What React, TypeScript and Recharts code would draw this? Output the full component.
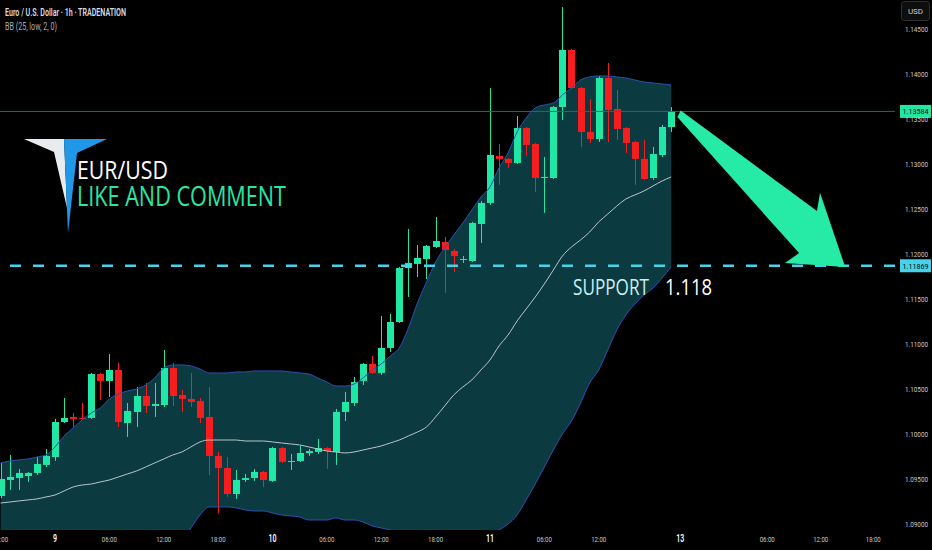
import React from 'react';
import { ComposedChart, Bar, Area, Line, XAxis, YAxis, ReferenceLine } from 'recharts';

// hourly bars, hour 0 = 9 Apr 00:00
const hours = Array.from({ length: 75 }, (_, i) => i - 6);

const opens = [
  1.09311, 1.09489, 1.09511, 1.09533, 1.09567, 1.09656, 1.09744, 1.10133, 1.10189, 1.10178,
  1.10178, 1.10667, 1.10589, 1.10711, 1.10122, 1.10244, 1.10422, 1.10311, 1.10322, 1.10733,
  1.10433, 1.10389, 1.10367, 1.10189, 1.09756, 1.09622, 1.09333, 1.09489, 1.09511, 1.09578,
  1.09478, 1.09844, 1.09689, 1.09700, 1.09789, 1.09800, 1.09844, 1.09800, 1.10244, 1.10344,
  1.10589, 1.10778, 1.10678, 1.10956, 1.11244, 1.11844, 1.11889, 1.11944, 1.12078, 1.12133,
  1.12033, 1.11933, 1.11922, 1.12333, 1.12567, 1.13089, 1.13056, 1.13011, 1.13400, 1.13222,
  1.12844, 1.12844, 1.13633, 1.14267, 1.13844, 1.13356, 1.13278, 1.13956, 1.13611, 1.13400,
  1.13244, 1.13056, 1.12844, 1.13100, 1.13411,
];
const highs = [
  1.09678, 1.09767, 1.09611, 1.09578, 1.09744, 1.09833, 1.10167, 1.10400, 1.10233, 1.10344,
  1.10678, 1.10678, 1.10889, 1.10789, 1.10344, 1.10522, 1.10567, 1.10567, 1.10933, 1.10789,
  1.10489, 1.10678, 1.10400, 1.10522, 1.09800, 1.09744, 1.09600, 1.09556, 1.09611, 1.09589,
  1.09856, 1.09856, 1.09778, 1.09867, 1.09833, 1.09944, 1.09856, 1.10278, 1.10467, 1.10633,
  1.10789, 1.10867, 1.11311, 1.11333, 1.11856, 1.12278, 1.12100, 1.12100, 1.12411, 1.12189,
  1.12056, 1.11978, 1.12356, 1.12589, 1.13844, 1.13222, 1.13067, 1.13533, 1.13411, 1.13233,
  1.13078, 1.13644, 1.14744, 1.14278, 1.13856, 1.13722, 1.13978, 1.14122, 1.13822, 1.13411,
  1.13256, 1.13267, 1.13189, 1.13433, 1.13633,
];
const lows = [
  1.09289, 1.09378, 1.09378, 1.09467, 1.09544, 1.09633, 1.09700, 1.10122, 1.10078, 1.10156,
  1.10167, 1.10378, 1.10411, 1.10078, 1.09967, 1.10078, 1.10233, 1.10189, 1.10300, 1.10311,
  1.10244, 1.10300, 1.10122, 1.09544, 1.09122, 1.09300, 1.09278, 1.09467, 1.09478, 1.09411,
  1.09467, 1.09678, 1.09600, 1.09689, 1.09756, 1.09778, 1.09611, 1.09656, 1.10144, 1.10311,
  1.10544, 1.10667, 1.10656, 1.10911, 1.11233, 1.11522, 1.11744, 1.11722, 1.12067, 1.11567,
  1.11800, 1.11900, 1.11911, 1.12122, 1.12544, 1.12767, 1.12956, 1.13000, 1.13089, 1.12689,
  1.12456, 1.12833, 1.13489, 1.13833, 1.13189, 1.13233, 1.13244, 1.13244, 1.13267, 1.13122,
  1.12767, 1.12822, 1.12822, 1.13078, 1.13356,
];
const closes = [
  1.09500, 1.09522, 1.09567, 1.09567, 1.09667, 1.09756, 1.10133, 1.10178, 1.10167, 1.10167,
  1.10667, 1.10589, 1.10711, 1.10133, 1.10256, 1.10422, 1.10311, 1.10333, 1.10733, 1.10422,
  1.10389, 1.10356, 1.10178, 1.09756, 1.09622, 1.09333, 1.09489, 1.09511, 1.09578, 1.09489,
  1.09844, 1.09689, 1.09700, 1.09789, 1.09811, 1.09844, 1.09811, 1.10244, 1.10356, 1.10578,
  1.10778, 1.10678, 1.10956, 1.11244, 1.11844, 1.11900, 1.11956, 1.12089, 1.12144, 1.12044,
  1.11978, 1.11944, 1.12344, 1.12567, 1.13100, 1.13056, 1.13011, 1.13400, 1.13211, 1.12844,
  1.12856, 1.13633, 1.14267, 1.13844, 1.13356, 1.13278, 1.13956, 1.13600, 1.13389, 1.13233,
  1.13056, 1.12833, 1.13111, 1.13411, 1.13584,
];

// Bollinger bands (25, low, 2)
const uppers = [
  1.09678, 1.09700, 1.09711, 1.09722, 1.09744, 1.09767, 1.09856, 1.09978, 1.10067, 1.10156,
  1.10233, 1.10289, 1.10389, 1.10444, 1.10478, 1.10500, 1.10544, 1.10622, 1.10733, 1.10767,
  1.10767, 1.10756, 1.10722, 1.10678, 1.10678, 1.10678, 1.10689, 1.10689, 1.10700, 1.10700,
  1.10700, 1.10700, 1.10689, 1.10678, 1.10667, 1.10622, 1.10578, 1.10533, 1.10533, 1.10556,
  1.10622, 1.10711, 1.10778, 1.10867, 1.10956, 1.11178, 1.11456, 1.11689, 1.11911, 1.12067,
  1.12211, 1.12344, 1.12489, 1.12633, 1.12744, 1.12956, 1.13122, 1.13356, 1.13511, 1.13622,
  1.13656, 1.13678, 1.13767, 1.13844, 1.13933, 1.13967, 1.13978, 1.13978, 1.13967, 1.13956,
  1.13933, 1.13911, 1.13900, 1.13889, 1.13878,
];
const bases = [
  1.09233, 1.09244, 1.09256, 1.09267, 1.09278, 1.09300, 1.09322, 1.09367, 1.09411, 1.09433,
  1.09444, 1.09467, 1.09489, 1.09522, 1.09556, 1.09589, 1.09633, 1.09678, 1.09722, 1.09767,
  1.09800, 1.09856, 1.09911, 1.09933, 1.09933, 1.09933, 1.09933, 1.09922, 1.09922, 1.09922,
  1.09911, 1.09900, 1.09889, 1.09878, 1.09856, 1.09833, 1.09811, 1.09800, 1.09789, 1.09800,
  1.09822, 1.09844, 1.09867, 1.09900, 1.09933, 1.09978, 1.10022, 1.10078, 1.10189, 1.10311,
  1.10433, 1.10522, 1.10600, 1.10711, 1.10822, 1.10978, 1.11100, 1.11256, 1.11389, 1.11522,
  1.11667, 1.11822, 1.11978, 1.12078, 1.12156, 1.12244, 1.12356, 1.12444, 1.12533, 1.12611,
  1.12656, 1.12700, 1.12756, 1.12811, 1.12856,
];
const lowers = [
  1.08789, 1.08789, 1.08800, 1.08811, 1.08811, 1.08833, 1.08789, 1.08756, 1.08756, 1.08711,
  1.08656, 1.08644, 1.08589, 1.08600, 1.08633, 1.08678, 1.08722, 1.08733, 1.08711, 1.08767,
  1.08833, 1.08956, 1.09100, 1.09189, 1.09189, 1.09189, 1.09178, 1.09156, 1.09144, 1.09144,
  1.09122, 1.09100, 1.09089, 1.09078, 1.09044, 1.09044, 1.09044, 1.09067, 1.09044, 1.09044,
  1.09022, 1.08978, 1.08956, 1.08933, 1.08911, 1.08778, 1.08589, 1.08467, 1.08467, 1.08556,
  1.08656, 1.08700, 1.08711, 1.08789, 1.08900, 1.08933, 1.09000, 1.09100, 1.09267, 1.09444,
  1.09633, 1.09822, 1.10000, 1.10144, 1.10344, 1.10567, 1.10711, 1.10933, 1.11156, 1.11322,
  1.11444, 1.11544, 1.11622, 1.11733, 1.11856,
];

const priceTicks = [1.09, 1.095, 1.1, 1.105, 1.11, 1.115, 1.12, 1.125, 1.13, 1.135, 1.14, 1.145];
const tickHours = [-6, 0, 6, 12, 18, 24, 30, 36, 42, 48, 54, 60, 69, 78.6, 84.5, 90.3];
const tickLabels = ['18:00', '9', '06:00', '12:00', '18:00', '10', '06:00', '12:00', '18:00', '11', '06:00', '12:00', '13', '06:00', '12:00', '18:00'];

const supportLevel = 1.11869;
const lastPrice = closes[closes.length - 1];
// arrow from last bar down to the support level: [hour, price]
const arrowPoints = [[68.9, 1.13578], [87.2, 1.11856]];

const data = hours.map((h, i) => ({
  h,
  open: opens[i],
  high: highs[i],
  low: lows[i],
  close: closes[i],
  range: [lows[i], highs[i]],
  upper: uppers[i],
  basis: bases[i],
  lower: lowers[i],
  band: [lowers[i], uppers[i]],
}));

const UP = '#1fe8a6';
const DOWN = '#f51d1d';
const BAND_LINE = '#2c50b0';

const Candle = (props: any) => {
  const { x, y, width, height, payload } = props;
  if (!payload) return null;
  const top = Math.min(y, y + height);
  const h = Math.abs(height);
  const { open, high, low, close } = payload;
  const span = high - low || 1e-9;
  const py = (p: number) => top + ((high - p) / span) * h;
  const color = close >= open ? UP : DOWN;
  const cx = Math.round(x + width / 2) + 0.5;
  const bTop = py(Math.max(open, close));
  const bBot = py(Math.min(open, close));
  return (
    <g>
      <line x1={cx} x2={cx} y1={top} y2={top + h} stroke={color} strokeWidth={1} />
      <rect x={cx - width / 2} y={bTop} width={width} height={Math.max(1, bBot - bTop)} fill={color} />
    </g>
  );
};

// arrow outline, along/perpendicular offsets for a 226px long arrow
const ARROW = [[0, -2], [167.7, -21.6], [157.6, -36.9], [226.4, 0], [179.9, 38.2], [183.4, 21.3], [2, 5]];

const Arrow = (props: any) => {
  const { x1, y1, x2, y2 } = props;
  const dx = x2 - x1;
  const dy = y2 - y1;
  const L = Math.hypot(dx, dy) || 1;
  const ux = dx / L;
  const uy = dy / L;
  const k = L / 226.4;
  const pts = ARROW.map(([a, p]) => `${x1 + (ux * a - uy * p) * k},${y1 + (uy * a + ux * p) * k}`).join(' ');
  return <polygon points={pts} fill="#25eba6" />;
};

const PriceTick = ({ y, payload }: any) => (
  <text x={928} y={y + 3} textAnchor="end" fontSize={8} fill="#c9cbd1" fontFamily="Roboto" textLength={23} lengthAdjust="spacingAndGlyphs">
    {payload.value.toFixed(5)}
  </text>
);

const TimeTick = ({ x, payload }: any) => {
  const label = tickLabels[tickHours.indexOf(payload.value)] || '';
  const isDay = !label.includes(':');
  return (
    <text
      x={x}
      y={542}
      textAnchor="middle"
      fontSize={isDay ? 10 : 8}
      fontWeight={isDay ? 600 : 400}
      fill={isDay ? '#ffffff' : '#c9cbd1'}
      fontFamily="Roboto"
      textLength={isDay ? label.length * 4 : 15}
      lengthAdjust="spacingAndGlyphs"
    >
      {label}
    </text>
  );
};

const priceTag = (value: number, bg: string) => (props: any) => {
  const vb = props.viewBox || {};
  const right = (vb.x || 0) + (vb.width || 0);
  const y = vb.y || 0;
  return (
    <g>
      <rect x={right + 5} y={y - 6.5} width={31} height={13} fill={bg} />
      <text x={right + 20.5} y={y + 3} textAnchor="middle" fontSize={8} fill="#0a0a0a" fontFamily="Roboto" textLength={26} lengthAdjust="spacingAndGlyphs">
        {value.toFixed(5)}
      </text>
    </g>
  );
};

export default function App() {
  return (
    <div style={{ position: 'relative', width: 932, height: 550, background: '#000', overflow: 'hidden' }}>
      <style>{'body{margin:0;background:#000}'}</style>
      <ComposedChart width={932} height={550} data={data} margin={{ top: 0, right: 0, bottom: 0, left: 0 }}>
        <XAxis
          dataKey="h"
          type="number"
          domain={[-6.07, 92.7]}
          ticks={tickHours}
          interval={0}
          tick={<TimeTick />}
          axisLine={false}
          tickLine={false}
          height={20}
          allowDataOverflow
        />
        <YAxis
          orientation="right"
          type="number"
          domain={[1.08933, 1.14822]}
          ticks={priceTicks}
          interval={0}
          tick={<PriceTick />}
          axisLine={false}
          tickLine={false}
          width={37}
          allowDataOverflow
        />
        <Area type="monotone" dataKey="band" fill="#0b3b41" fillOpacity={1} stroke="none" dot={false} activeDot={false} isAnimationActive={false} />
        <Line type="monotone" dataKey="upper" stroke={BAND_LINE} strokeWidth={1} dot={false} activeDot={false} isAnimationActive={false} />
        <Line type="monotone" dataKey="lower" stroke={BAND_LINE} strokeWidth={1} dot={false} activeDot={false} isAnimationActive={false} />
        <Line type="monotone" dataKey="basis" stroke="#b9c6c8" strokeWidth={1} dot={false} activeDot={false} isAnimationActive={false} />
        <ReferenceLine y={lastPrice} stroke="#1a7555" strokeWidth={1} label={priceTag(lastPrice, '#22e6a3')} />
        <Bar dataKey="range" barSize={7} shape={<Candle />} activeBar={false} isAnimationActive={false} />
        <ReferenceLine
          y={supportLevel}
          stroke="#45d3ea"
          strokeWidth={2.5}
          strokeDasharray="11 12"
          label={priceTag(supportLevel, '#45d3ea')}
        />
        <ReferenceLine
          segment={[
            { x: arrowPoints[0][0], y: arrowPoints[0][1] },
            { x: arrowPoints[1][0], y: arrowPoints[1][1] },
          ]}
          shape={Arrow}
          ifOverflow="visible"
        />
      </ComposedChart>

      <svg width={932} height={550} style={{ position: 'absolute', left: 0, top: 0, pointerEvents: 'none' }}>
        <text x={5} y={16} fontSize={10} fontWeight={600} fill="#d9dbe0" fontFamily="Roboto" textLength={121} lengthAdjust="spacingAndGlyphs">
          Euro / U.S. Dollar · 1h · TRADENATION
        </text>
        <text x={5} y={30} fontSize={10} fill="#a9abb3" fontFamily="Roboto" textLength={52} lengthAdjust="spacingAndGlyphs">
          BB (25, low, 2, 0)
        </text>
        <rect x={901.5} y={1.5} width={28} height={19} rx={3} fill="#0e0e0e" stroke="#2e2e2e" />
        <text x={915.5} y={14} textAnchor="middle" fontSize={8} fill="#c9cbd1" fontFamily="Roboto">USD</text>

        <polygon points="24,139 64,139 67,208 54,152" fill="#e9ecef" />
        <polygon points="64,139 107,139 77,153 68,233" fill="#1f98e8" />
        <text x={77} y={179} fontSize={26} fontWeight={500} fill="#ffffff" fontFamily="Open Sans" textLength={91} lengthAdjust="spacingAndGlyphs">
          EUR/USD
        </text>
        <text x={77} y={206} fontSize={28} fontWeight={500} fill="#29e6a2" fontFamily="Open Sans" textLength={209} lengthAdjust="spacingAndGlyphs">
          LIKE AND COMMENT
        </text>

        <text x={573} y={295} fontSize={22} fill="#cdeff2" fontFamily="Open Sans" textLength={76} lengthAdjust="spacingAndGlyphs">
          SUPPORT
        </text>
        <text x={665} y={295} fontSize={22} fill="#ffffff" fontFamily="Open Sans" textLength={47} lengthAdjust="spacingAndGlyphs">
          1.118
        </text>
      </svg>
    </div>
  );
}
